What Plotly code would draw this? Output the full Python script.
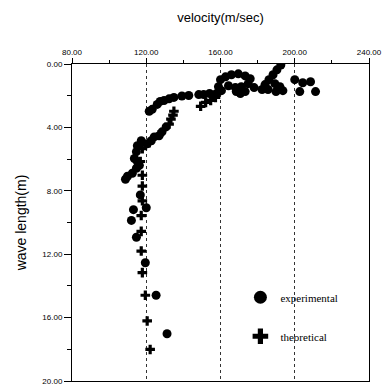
import plotly.graph_objects as go

# experimental measurements: velocity (m/sec) and wave length (m)
exp_velocity = [
    192.5, 190.4, 188.3, 186.1, 184.0, 182.4, 185.6, 189.3, 192.0, 193.6, 189.9,
    200.0, 204.3, 208.5, 202.7, 211.2,
    160.0, 162.7, 165.9, 169.6, 173.3, 176.0, 164.3, 168.0, 171.2, 174.9, 168.5,
    170.7, 173.3, 158.9, 160.5, 157.9, 178.1,
    154.1, 150.9, 148.3, 142.9, 139.2, 134.9, 132.3, 129.6, 127.5, 125.9, 123.2, 121.6,
    130.7, 128.5, 126.9, 124.3, 122.7, 120.5, 117.3, 115.2, 114.7, 113.6, 115.2,
    116.3, 114.7, 112.5, 109.9, 108.8,
    116.8, 120.0, 113.1, 112.0, 114.7, 119.5, 125.3, 131.2,
]
exp_wavelength = [
    0.06, 0.37, 0.68, 0.99, 1.30, 1.61, 1.61, 1.24, 1.43, 1.68, 1.74,
    0.99, 1.18, 1.12, 1.74, 1.74,
    0.99, 0.81, 0.68, 0.62, 0.75, 0.93, 1.37, 1.49, 1.43, 1.24, 1.74,
    1.86, 1.74, 1.43, 1.68, 1.86, 1.49,
    1.86, 1.93, 1.93, 1.99, 2.02, 2.11, 2.20, 2.30, 2.36, 2.55, 2.86, 2.98,
    3.97, 4.28, 4.53, 4.60, 4.84, 5.03, 4.84, 5.15, 5.53, 5.96, 6.15,
    6.40, 6.58, 6.89, 7.08, 7.27,
    8.26, 9.07, 9.19, 9.87, 10.93, 12.54, 14.59, 17.02,
]

# theoretical curve points
theo_velocity = [
    149.3, 152.0, 154.7, 157.3, 134.9, 134.4, 133.3, 132.3, 126.9, 121.6, 117.9,
    116.8, 117.9, 117.9, 117.9, 117.3, 117.3, 117.3, 117.9, 119.5, 120.5, 122.1,
]
theo_wavelength = [
    2.67, 2.42, 2.30, 2.11, 2.98, 3.23, 3.48, 3.79, 4.47, 4.97, 5.34,
    6.15, 7.02, 7.70, 8.63, 9.56, 10.56, 11.80, 13.16, 14.59, 16.21, 18.01,
]

x_ticks = [80, 120, 160, 200, 240]
y_ticks = [0, 4, 8, 12, 16, 20]
x_labels = [f"{v:.2f}" for v in x_ticks]
y_labels = [f"{v:.2f}" for v in y_ticks]

serif = "Liberation Serif, DejaVu Serif, serif"
sans = "Liberation Sans, Arial, sans-serif"

fig = go.Figure()

fig.add_trace(go.Scatter(
    x=exp_velocity, y=exp_wavelength, mode="markers", showlegend=False,
    marker=dict(symbol="circle", size=9, color="black", line=dict(width=0)),
))
fig.add_trace(go.Scatter(
    x=theo_velocity, y=theo_wavelength, mode="markers", showlegend=False,
    marker=dict(symbol="cross", size=8, color="black", line=dict(width=0)),
))

# legend entries with enlarged symbols
fig.add_trace(go.Scatter(
    x=[None], y=[None], mode="markers", name="experimental", legendgroup="a",
    marker=dict(symbol="circle", size=13, color="black"),
))
fig.add_trace(go.Scatter(
    x=[None], y=[None], mode="markers", name="theoretical", legendgroup="b",
    marker=dict(symbol="cross", size=13, color="black"),
))

fig.update_layout(
    width=386, height=390,
    margin=dict(l=72, r=14, t=64, b=4),
    paper_bgcolor="white", plot_bgcolor="white",
    showlegend=True,
    legend=dict(
        x=0.567, y=0.31, xanchor="left", yanchor="top",
        font=dict(family=serif, size=11, color="black"),
        bgcolor="rgba(0,0,0,0)", tracegroupgap=20, itemsizing="trace",
    ),
)

fig.update_xaxes(
    side="top", range=[80, 240], tickmode="array",
    tickvals=x_ticks, ticktext=x_labels,
    tickfont=dict(family=sans, size=8, color="black"),
    ticks="outside", ticklen=5, tickwidth=1, tickcolor="black",
    minor=dict(dtick=20, ticks="outside", ticklen=3, tickcolor="black", showgrid=False),
    showline=True, linecolor="black", linewidth=1, mirror=True,
    showgrid=True, gridcolor="#333333", griddash="dot", gridwidth=1,
    zeroline=False,
    title=dict(text="velocity(m/sec)", font=dict(family=sans, size=13, color="black"), standoff=22),
)
fig.update_yaxes(
    range=[20, 0], tickmode="array",
    tickvals=y_ticks, ticktext=y_labels,
    tickfont=dict(family=sans, size=8, color="black"),
    ticks="outside", ticklen=7, tickwidth=1, tickcolor="black",
    minor=dict(dtick=2, ticks="outside", ticklen=4, tickcolor="black", showgrid=False),
    showline=True, linecolor="black", linewidth=1, mirror=True,
    showgrid=False, zeroline=False,
    title=dict(text="wave length(m)", font=dict(family=sans, size=14, color="black"), standoff=12),
)

fig.write_html("out.html")
